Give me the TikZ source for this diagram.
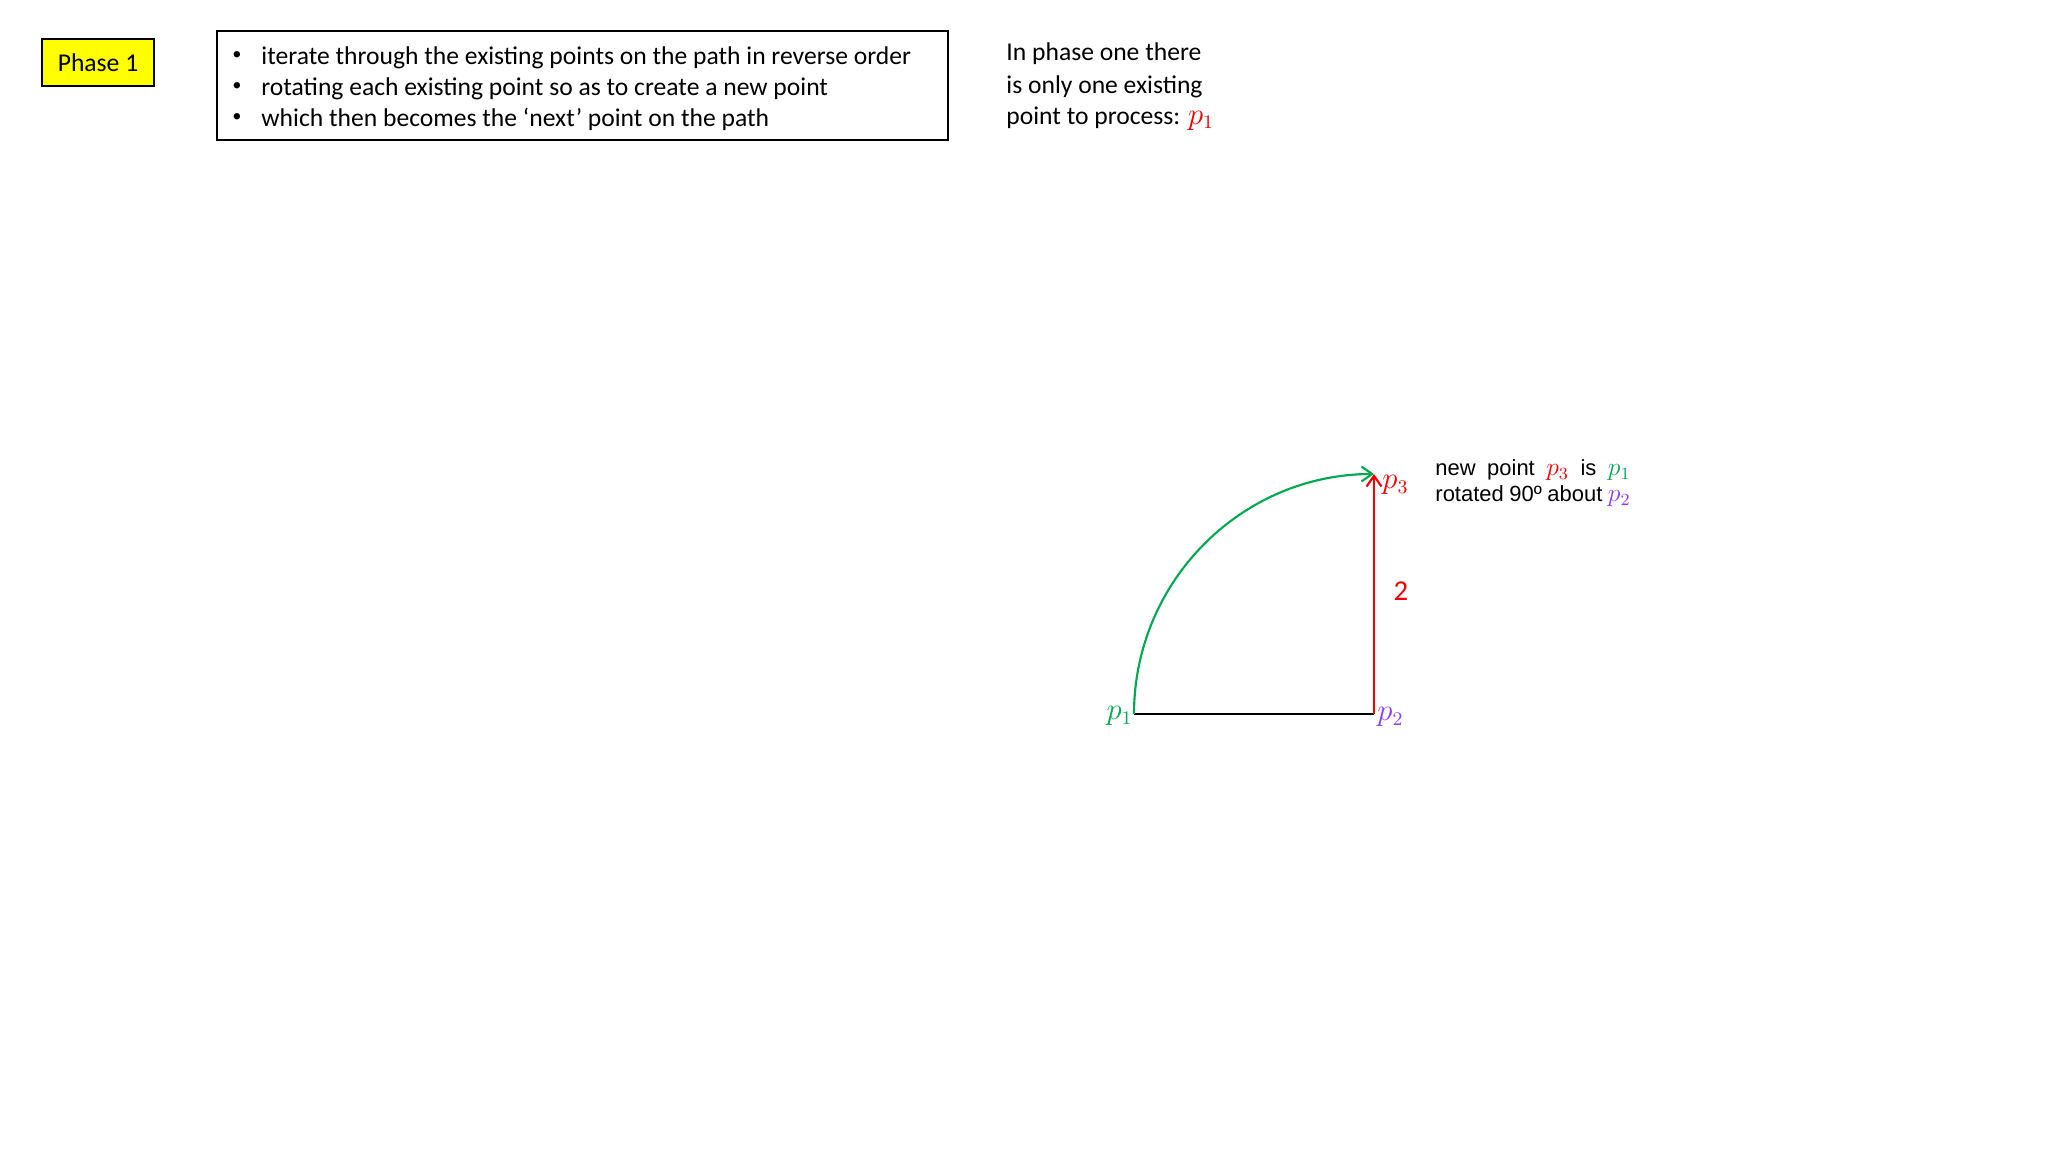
\documentclass[tikz,border=0pt]{standalone}
\usepackage{fontspec}
\setmainfont{Carlito}
\newfontfamily\notefont{Liberation Sans}
\usetikzlibrary{arrows.meta}
\definecolor{ppgreen}{RGB}{0,168,80}
\definecolor{ppred}{RGB}{240,0,0}
\definecolor{ppviolet}{RGB}{140,60,235}
\definecolor{ppyellow}{RGB}{255,255,0}
\newcommand{\notemath}[1]{{\fontsize{12}{14}\selectfont$#1$}}
\tikzset{
  box/.style={draw=black, line width=0.8pt, inner sep=0pt},
  txt/.style={inner sep=0pt, anchor=west, font=\fontsize{12}{14.6}\selectfont},
  bul/.style={inner sep=0pt, font=\notefont\fontsize{11}{13}\selectfont},
  note/.style={inner sep=0pt, anchor=west, font=\notefont\fontsize{10.3}{12.4}\selectfont},
  lbl/.style={inner sep=0pt, font=\fontsize{13.5}{16}\selectfont},
  tip/.style={-{Straight Barb[length=5pt,width=7pt]}},
}
\begin{document}
\begin{tikzpicture}[x=0.46875pt, y=-0.46875pt]
\useasboundingbox (0,0) rectangle (2048,1152);
% Phase box
\node[box, fill=ppyellow, minimum width=112*0.46875pt, minimum height=47*0.46875pt,
      font=\fontsize{12}{14.6}\selectfont] (phase) at (98,62.5) {Phase 1};
% bullet box
\node[box, minimum width=731*0.46875pt, minimum height=109*0.46875pt] (bbox) at (582.5,85.5) {};
\node[bul] (b1) at (237,57) {•};
\node[bul] (b2) at (237,88) {•};
\node[bul] (b3) at (237,119) {•};
\node[txt] (t1) at (261,58) {\strut iterate through the existing points on the path in reverse order};
\node[txt] (t2) at (261,89) {\strut rotating each existing point so as to create a new point};
\node[txt] (t3) at (261,120) {\strut which then becomes the ‘next’ point on the path};
% right text
\node[txt] (r1) at (1006,54) {\strut In phase one there};
\node[txt] (r2) at (1006,87) {\strut is only one existing};
\node[txt] (r3) at (1006,118) {\strut point to process: \textcolor{ppred}{\fontsize{13.5}{16}\selectfont$p_1$}};
% points
\coordinate (p1) at (1134,714);
\coordinate (p2) at (1374,714);
\coordinate (p3) at (1374,474);
\draw[line width=1pt, black] (p1) -- (p2);
\draw[line width=1pt, ppred, tip] (p2) -- (p3);
\draw[line width=1pt, ppgreen, tip] (p1) arc[start angle=180, end angle=270, radius=240] coordinate (arcend);
\node[lbl, anchor=east, text=ppgreen] (l1) at (1133,716) {$p_1$};
\node[lbl, anchor=west, text=ppviolet] (l2) at (1377,717) {$p_2$};
\node[lbl, anchor=west, text=ppred] (l3) at (1382,485) {$p_3$};
\node[lbl, text=ppred] (two) at (1401,591) {2};
% note
\node[note] (n1) at (1435,470) {\strut\makebox[91.5pt][s]{new point \textcolor{ppred}{\notemath{p_3}} is \textcolor{ppgreen}{\notemath{p_1}}}};
\node[note] (n2) at (1435,496) {\strut\makebox[91.5pt][s]{rotated 90º about \textcolor{ppviolet}{\notemath{p_2}}}};
\end{tikzpicture}
\end{document}
